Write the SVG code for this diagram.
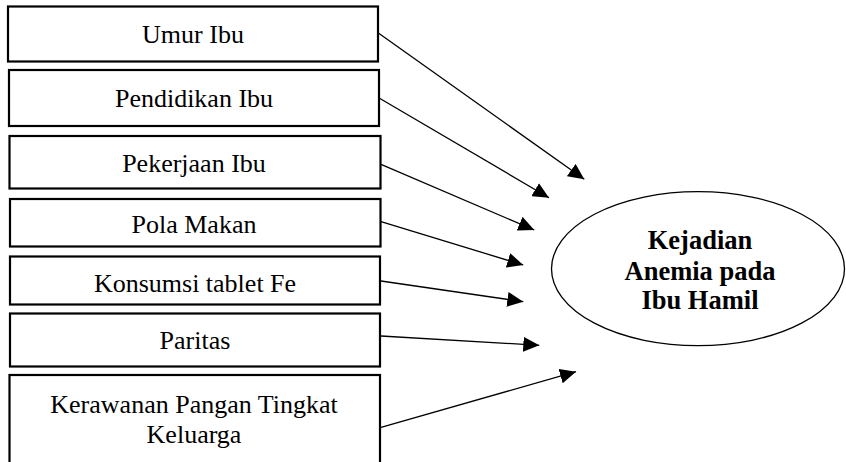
<svg xmlns="http://www.w3.org/2000/svg" width="846" height="462" viewBox="0 0 846 462">
<style>
.box{fill:#fff;stroke:#000;stroke-width:2.2}
.lbl{font-family:"Liberation Serif","Times New Roman",serif;font-size:26px;fill:#000;text-anchor:middle}
.tgt{font-family:"Liberation Serif","Times New Roman",serif;font-size:26.5px;font-weight:bold;fill:#000;text-anchor:middle}
.con line{stroke:#000;stroke-width:1.3;marker-end:url(#ah)}
</style>
<defs>
<marker id="ah" markerUnits="userSpaceOnUse" markerWidth="16" markerHeight="15" refX="16" refY="7.5" orient="auto">
<path d="M0,0 L16,7.5 L0,15 z" fill="#000"/>
</marker>
</defs>
<rect width="846" height="462" fill="#fff"/>
<g id="n1"><rect class="box" x="8" y="6.5" width="370" height="55"/><text class="lbl" x="193" y="42.7">Umur Ibu</text></g>
<g id="n2"><rect class="box" x="9" y="70" width="370" height="56"/><text class="lbl" x="194" y="106.7">Pendidikan Ibu</text></g>
<g id="n3"><rect class="box" x="9.5" y="136" width="371" height="52.5"/><text class="lbl" x="194" y="171.7">Pekerjaan Ibu</text></g>
<g id="n4"><rect class="box" x="10" y="199" width="370.5" height="47.5"/><text class="lbl" x="194" y="233.3">Pola Makan</text></g>
<g id="n5"><rect class="box" x="10" y="256.5" width="370" height="48"/><text class="lbl" x="195" y="291.7">Konsumsi tablet Fe</text></g>
<g id="n6"><rect class="box" x="10" y="313.5" width="370" height="53"/><text class="lbl" x="195" y="349.3">Paritas</text></g>
<g id="n7"><rect class="box" x="9.5" y="375" width="370.5" height="110"/><text class="lbl" x="194" y="413.3">Kerawanan Pangan Tingkat</text><text class="lbl" x="194" y="443.3">Keluarga</text></g>
<g id="target"><ellipse cx="698" cy="268.7" rx="146.5" ry="77" fill="#fff" stroke="#000" stroke-width="1.3"/>
<text class="tgt" x="700" y="249.3">Kejadian</text>
<text class="tgt" x="700" y="280">Anemia pada</text>
<text class="tgt" x="700" y="309.3">Ibu Hamil</text></g>
<g id="connectors" class="con">
<line x1="378" y1="32.7" x2="584.3" y2="179.3"/>
<line x1="379.5" y1="98.3" x2="549" y2="197.7"/>
<line x1="381" y1="164.3" x2="534.3" y2="230"/>
<line x1="381" y1="221.7" x2="523.3" y2="265"/>
<line x1="381" y1="281" x2="523.3" y2="301.7"/>
<line x1="381" y1="336" x2="539.3" y2="345.3"/>
<line x1="381" y1="427.3" x2="576" y2="371.7"/>
</g>
</svg>
